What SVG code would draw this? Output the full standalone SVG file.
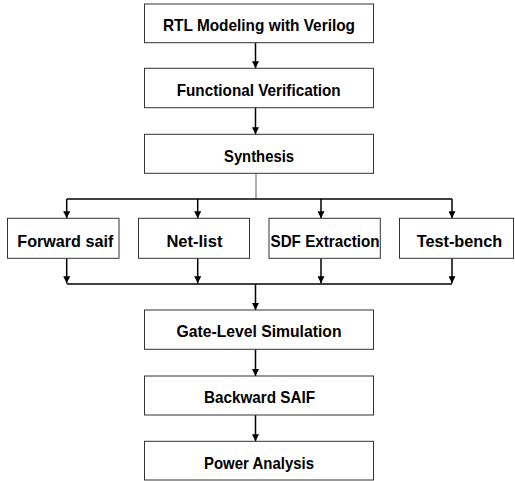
<svg xmlns="http://www.w3.org/2000/svg" width="515" height="481" viewBox="0 0 515 481">
<style>
.box{fill:#fff;stroke:#333;stroke-width:1}
.lbl{font-family:"Liberation Sans",Arial,sans-serif;font-weight:bold;font-size:17px;fill:#000;text-anchor:middle}
.ln{stroke:#000;stroke-width:1.5;fill:none}
.gr{stroke:#777;stroke-width:1.2;fill:none}
</style>
<defs>
<marker id="ah" markerWidth="7" markerHeight="7" refX="7" refY="3.5" orient="auto" markerUnits="userSpaceOnUse">
<path d="M0,0 L7,3.5 L0,7 Z" fill="#000"/>
</marker>
</defs>
<rect width="515" height="481" fill="#fff"/>
<g id="connectors">
<line class="ln" x1="255.5" y1="42.7" x2="255.5" y2="68.3" marker-end="url(#ah)"/>
<line class="ln" x1="255.5" y1="107.7" x2="255.5" y2="134.3" marker-end="url(#ah)"/>
<line class="gr" x1="256" y1="173.3" x2="256" y2="199"/>
<line class="ln" x1="66.7" y1="199" x2="452" y2="199"/>
<line class="ln" x1="66.7" y1="199" x2="66.7" y2="218.3" marker-end="url(#ah)"/>
<line class="ln" x1="197.7" y1="199" x2="197.7" y2="218.3" marker-end="url(#ah)"/>
<line class="ln" x1="321" y1="199" x2="321" y2="218.3" marker-end="url(#ah)"/>
<line class="ln" x1="452" y1="199" x2="452" y2="218.3" marker-end="url(#ah)"/>
<line class="ln" x1="66.7" y1="258.3" x2="66.7" y2="283.3" marker-end="url(#ah)"/>
<line class="ln" x1="197.7" y1="258.3" x2="197.7" y2="283.3" marker-end="url(#ah)"/>
<line class="ln" x1="321" y1="258.3" x2="321" y2="283.3" marker-end="url(#ah)"/>
<line class="ln" x1="452" y1="258.3" x2="452" y2="283.3" marker-end="url(#ah)"/>
<line class="ln" x1="66.7" y1="284" x2="452" y2="284"/>
<line class="ln" x1="255.5" y1="284" x2="255.5" y2="310" marker-end="url(#ah)"/>
<line class="ln" x1="255.5" y1="349.3" x2="255.5" y2="376" marker-end="url(#ah)"/>
<line class="ln" x1="255.5" y1="415" x2="255.5" y2="441.3" marker-end="url(#ah)"/>
</g>
<g id="rtl">
<rect class="box" x="144.5" y="4" width="229" height="38.7"/>
<text class="lbl" x="259" y="30.7" textLength="192" lengthAdjust="spacingAndGlyphs">RTL Modeling with Verilog</text>
</g>
<g id="funcver">
<rect class="box" x="144.5" y="68.3" width="229" height="39.4"/>
<text class="lbl" x="258.7" y="95.7" textLength="164" lengthAdjust="spacingAndGlyphs">Functional Verification</text>
</g>
<g id="synthesis">
<rect class="box" x="144.5" y="134.3" width="229" height="39"/>
<text class="lbl" x="259" y="161.5" textLength="70" lengthAdjust="spacingAndGlyphs">Synthesis</text>
</g>
<g id="forwardsaif">
<rect class="box" x="7.5" y="218.3" width="111.5" height="40"/>
<text class="lbl" x="65.3" y="246.7" textLength="96" lengthAdjust="spacingAndGlyphs">Forward saif</text>
</g>
<g id="netlist">
<rect class="box" x="138.5" y="218.3" width="111" height="40"/>
<text class="lbl" x="194.4" y="246.7" textLength="56" lengthAdjust="spacingAndGlyphs">Net-list</text>
</g>
<g id="sdf">
<rect class="box" x="269" y="218.3" width="111.3" height="40"/>
<text class="lbl" x="325" y="246.7" textLength="109" lengthAdjust="spacingAndGlyphs">SDF Extraction</text>
</g>
<g id="testbench">
<rect class="box" x="399.5" y="218.3" width="114" height="40"/>
<text class="lbl" x="459.5" y="246.7" textLength="85.6" lengthAdjust="spacingAndGlyphs">Test-bench</text>
</g>
<g id="gatelevel">
<rect class="box" x="144.5" y="310" width="229" height="39.3"/>
<text class="lbl" x="259" y="337.2" textLength="165" lengthAdjust="spacingAndGlyphs">Gate-Level Simulation</text>
</g>
<g id="backsaif">
<rect class="box" x="144.5" y="376" width="229" height="39"/>
<text class="lbl" x="259.5" y="403.2" textLength="111" lengthAdjust="spacingAndGlyphs">Backward SAIF</text>
</g>
<g id="power">
<rect class="box" x="144.5" y="441.3" width="229" height="38.7"/>
<text class="lbl" x="259" y="468.5" textLength="110" lengthAdjust="spacingAndGlyphs">Power Analysis</text>
</g>
</svg>
